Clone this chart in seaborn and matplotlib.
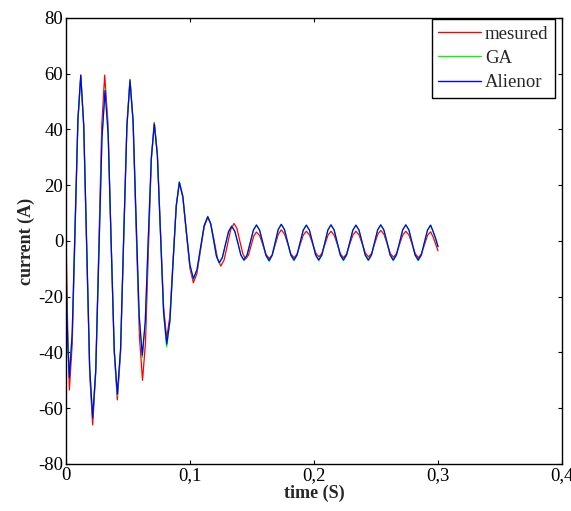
import numpy as np
import pandas as pd
import matplotlib
matplotlib.use("Agg")
import matplotlib.pyplot as plt
from matplotlib.ticker import FuncFormatter
import seaborn as sns

# mesured current
t_meas = [0.000, 0.0013, 0.0027, 0.0050, 0.0073, 0.0096, 0.0119, 0.0143, 0.0167, 0.0191,
          0.0215, 0.0239, 0.0264, 0.0288, 0.0312, 0.0338, 0.0363, 0.0389, 0.0414, 0.0440,
          0.0465, 0.0491, 0.0516, 0.0541, 0.0566, 0.0592, 0.0617, 0.0641, 0.0664, 0.0688,
          0.0712, 0.0737, 0.0762, 0.0787, 0.0812, 0.0838, 0.0863, 0.0889, 0.0914, 0.0942,
          0.0970, 0.0999, 0.1027, 0.1056, 0.1085, 0.1114, 0.1143, 0.1169, 0.1196, 0.1222,
          0.1248, 0.1275, 0.1302, 0.1328, 0.1355, 0.1379, 0.1402, 0.1426, 0.1449, 0.1471,
          0.1493, 0.1514, 0.1536, 0.1562, 0.1588, 0.1614, 0.1640, 0.1664, 0.1688, 0.1712,
          0.1736, 0.1762, 0.1788, 0.1814, 0.1840, 0.1864, 0.1889, 0.1913, 0.1938, 0.1964,
          0.1989, 0.2015, 0.2040, 0.2064, 0.2089, 0.2113, 0.2137, 0.2162, 0.2188, 0.2213,
          0.2238, 0.2263, 0.2288, 0.2313, 0.2338, 0.2364, 0.2389, 0.2415, 0.2440, 0.2465,
          0.2489, 0.2514, 0.2538, 0.2564, 0.2590, 0.2615, 0.2641, 0.2666, 0.2690, 0.2715,
          0.2740, 0.2766, 0.2791, 0.2817, 0.2842, 0.2866, 0.2891, 0.2915, 0.2940, 0.2960,
          0.2980, 0.3000]
i_meas = [2, -30, -53.5, -37, 3, 43, 59.5, 41.2, -3.3, -47.7,
          -66, -47.7, -3.3, 41.2, 59.5, 42.5, 1.2, -40, -57, -40.2,
          0.5, 41.2, 58, 42.2, 4, -34.2, -50, -36.5, -3.7, 29,
          42.5, 31.2, 3.7, -23.7, -35, -26.8, -7, 12.8, 21, 15.7,
          3, -9.7, -15, -11.6, -3.2, 5, 8.5, 5.9, -0.2, -6.4,
          -9, -6.8, -1.3, 4.1, 6.3, 4.4, -0.1, -4.6, -6.5, -5.1,
          -1.6, 1.8, 3.2, 1.9, -1.5, -4.9, -6.3, -4.9, -1.2, 2.4,
          4.0, 2.5, -1.0, -4.7, -6.0, -4.6, -1.2, 2.1, 3.5, 2.1,
          -1.1, -4.4, -5.7, -4.4, -1.1, 2.1, 3.5, 2.1, -1.2, -4.6,
          -6.0, -4.6, -1.2, 2.1, 3.5, 2.1, -1.1, -4.4, -5.7, -4.4,
          -1.0, 2.4, 3.8, 2.4, -1.0, -4.5, -5.8, -4.5, -1.2, 2.1,
          3.5, 2.1, -1.2, -4.6, -6.0, -4.6, -1.3, 2.0, 3.3, 1.5,
          -1.0, -3.5]

# model currents (GA and Alienor share the time points)
t_model = [0.000, 0.0013, 0.0027, 0.0050, 0.0073, 0.0096, 0.0119, 0.0143, 0.0167, 0.0191,
           0.0215, 0.0240, 0.0265, 0.0290, 0.0315, 0.0340, 0.0364, 0.0389, 0.0414, 0.0440,
           0.0465, 0.0491, 0.0516, 0.0541, 0.0565, 0.0590, 0.0615, 0.0639, 0.0663, 0.0688,
           0.0712, 0.0737, 0.0762, 0.0787, 0.0812, 0.0838, 0.0863, 0.0889, 0.0914, 0.0942,
           0.0970, 0.0999, 0.1027, 0.1056, 0.1085, 0.1114, 0.1143, 0.1166, 0.1190, 0.1213,
           0.1236, 0.1261, 0.1286, 0.1311, 0.1336, 0.1361, 0.1386, 0.1410, 0.1435, 0.1460,
           0.1486, 0.1511, 0.1536, 0.1561, 0.1587, 0.1612, 0.1638, 0.1662, 0.1687, 0.1711,
           0.1736, 0.1762, 0.1787, 0.1813, 0.1838, 0.1863, 0.1888, 0.1913, 0.1938, 0.1963,
           0.1988, 0.2013, 0.2038, 0.2063, 0.2088, 0.2112, 0.2137, 0.2162, 0.2187, 0.2212,
           0.2237, 0.2262, 0.2288, 0.2313, 0.2338, 0.2363, 0.2388, 0.2413, 0.2438, 0.2463,
           0.2488, 0.2513, 0.2538, 0.2563, 0.2589, 0.2614, 0.2639, 0.2664, 0.2690, 0.2715,
           0.2740, 0.2765, 0.2790, 0.2815, 0.2840, 0.2865, 0.2890, 0.2915, 0.2940, 0.2960,
           0.2980, 0.3000]
i_alienor = [-10, -36, -49, -33.2, 5.2, 43.7, 59.5, 41.5, -2, -45.5,
             -63.5, -46.3, -4.7, 36.8, 54, 38.1, -0.5, -39.1, -55, -38.6,
             1.2, 41.1, 57.5, 43.1, 8.2, -26.6, -41, -28.9, 0.5, 29.9,
             42, 30.5, 2.5, -25.5, -37, -28.5, -8, 12.5, 21, 16,
             3.7, -8.5, -13.5, -10.3, -2.4, 5.5, 8.7, 6.3, 0.4, -5.4,
             -7.8, -5.9, -1.2, 3.4, 5.3, 3.5, -0.7, -5.0, -6.8, -5.0,
             -0.5, 3.9, 5.7, 3.9, -0.6, -5.1, -7.0, -5.1, -0.5, 4.1,
             6.0, 4.1, -0.4, -5.0, -6.8, -5.0, -0.5, 3.9, 5.7, 3.9,
             -0.5, -5.0, -6.8, -5.0, -0.5, 4.0, 5.8, 4.0, -0.5, -5.0,
             -6.8, -5.0, -0.5, 3.9, 5.7, 3.9, -0.5, -5.0, -6.8, -5.0,
             -0.5, 4.0, 5.8, 4.0, -0.5, -5.0, -6.8, -5.0, -0.5, 4.0,
             5.8, 4.0, -0.5, -5.0, -6.8, -5.0, -0.5, 3.9, 5.7, 3.5,
             1.0, -2.0]
i_ga = [-9, -35, -48, -32.5, 5.5, 43.5, 59, 41, -2.5, -45.8,
        -63, -46, -4.5, 37, 54.5, 38.5, -0.3, -39.5, -55.5, -39,
        1.0, 41.3, 57.8, 43.3, 8.0, -27.2, -41.8, -29.5, 0.3, 29.8,
        42.3, 30.7, 2.2, -26.2, -38, -29, -8.3, 12.5, 21.3, 16.2,
        3.6, -8.7, -13.8, -10.4, -2.4, 5.5, 8.9, 6.4, 0.3, -5.6,
        -8.0, -6.0, -1.2, 3.4, 5.4, 3.5, -0.8, -5.2, -7.1, -5.2,
        -0.6, 3.9, 5.8, 3.9, -0.7, -5.3, -7.3, -5.3, -0.6, 4.0,
        5.9, 4.0, -0.5, -5.2, -7.1, -5.2, -0.6, 3.8, 5.6, 3.8,
        -0.6, -5.2, -7.1, -5.2, -0.6, 3.9, 5.7, 3.9, -0.6, -5.2,
        -7.1, -5.2, -0.6, 3.8, 5.6, 3.8, -0.6, -5.2, -7.1, -5.2,
        -0.6, 3.9, 5.7, 3.9, -0.6, -5.2, -7.1, -5.2, -0.6, 3.9,
        5.7, 3.9, -0.6, -5.2, -7.1, -5.2, -0.6, 3.8, 5.6, 3.4,
        0.9, -2.1]

x_ticks = [0, 0.1, 0.2, 0.3, 0.4]
y_ticks = [-80, -60, -40, -20, 0, 20, 40, 60, 80]

df = pd.concat([
    pd.DataFrame({"t": t_meas, "i": i_meas, "serie": "mesured"}),
    pd.DataFrame({"t": t_model, "i": i_ga, "serie": "GA"}),
    pd.DataFrame({"t": t_model, "i": i_alienor, "serie": "Alienor"}),
], ignore_index=True)

sns.set_style("ticks")
plt.rcParams["font.family"] = ["Liberation Serif", "DejaVu Serif"]
plt.rcParams["axes.unicode_minus"] = False

fig = plt.figure(figsize=(5.71, 5.11), dpi=100)
ax = fig.add_axes([0.1156, 0.092, 0.8687, 0.8728])

couleurs = {"mesured": "#ff0000", "GA": "#00ff00", "Alienor": "#0000ff"}
sns.lineplot(data=df, x="t", y="i", hue="serie", palette=couleurs,
             hue_order=["mesured", "GA", "Alienor"], estimator=None, sort=False,
             linewidth=0.9, ax=ax)

ax.set_xlim(0, 0.4)
ax.set_ylim(-80, 80)
ax.set_xticks(x_ticks)
ax.set_yticks(y_ticks)
ax.xaxis.set_major_formatter(FuncFormatter(lambda v, p: ("%g" % v).replace(".", ",")))
ax.tick_params(direction="in", length=3, width=0.8, top=True, right=True,
               labelsize=13.5, colors="black", pad=2)
for s in ax.spines.values():
    s.set_visible(True)
    s.set_color("black")
    s.set_linewidth(1.0)

ax.set_xlabel("time (S)", fontsize=13, fontweight="bold", labelpad=1)
ax.set_ylabel("current (A)", fontsize=13, fontweight="bold", labelpad=2)

leg = ax.legend(loc="upper right", bbox_to_anchor=(0.986, 0.998), borderaxespad=0,
                fontsize=13.5, handlelength=2.3, handletextpad=0.2, labelspacing=0.38,
                borderpad=0.35, fancybox=False, framealpha=1)
leg.get_frame().set_edgecolor("black")
leg.get_frame().set_linewidth(1.0)
for ligne in leg.get_lines():
    ligne.set_linewidth(1.0)

fig.savefig("out.png", dpi=100)
